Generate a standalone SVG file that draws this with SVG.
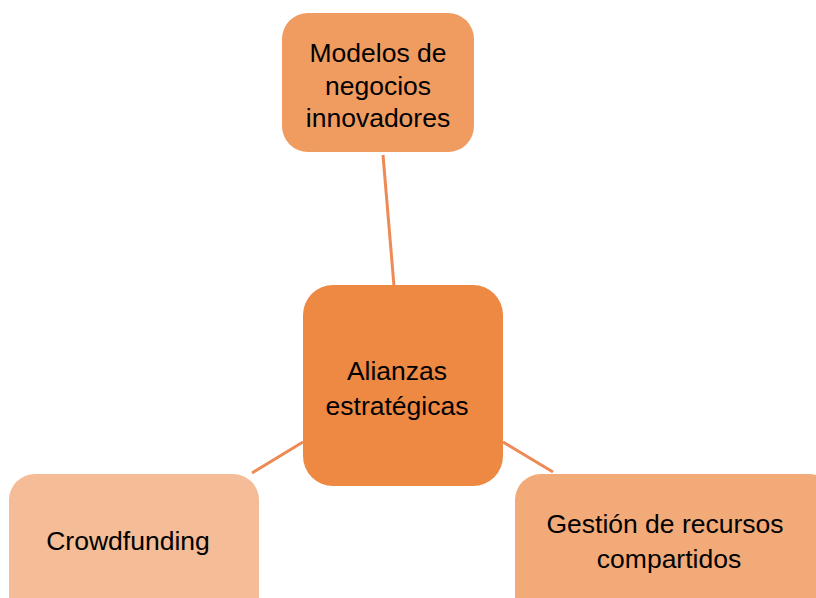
<svg xmlns="http://www.w3.org/2000/svg" width="816" height="598" viewBox="0 0 816 598">
<style>
.lbl{font-family:"Liberation Sans",Arial,sans-serif;font-size:26.5px;fill:#000;text-anchor:middle}
.conn{stroke:#EE8A55;stroke-width:3;fill:none}
</style>
<rect width="816" height="598" fill="#fff"/>
<g id="connectors">
<line class="conn" x1="383" y1="155" x2="394" y2="286"/>
<line class="conn" x1="252" y1="473" x2="303" y2="442"/>
<line class="conn" x1="503" y1="442" x2="553" y2="472"/>
</g>
<g id="node-modelos">
<rect x="282" y="13" width="192" height="139" rx="26" fill="#F09C60"/>
<text class="lbl" x="378"><tspan x="378" y="62">Modelos de</tspan><tspan x="378" y="95">negocios</tspan><tspan x="378" y="127">innovadores</tspan></text>
</g>
<g id="node-alianzas">
<rect x="303" y="285" width="200" height="201" rx="30" fill="#EE8944"/>
<text class="lbl" x="397"><tspan x="397" y="380">Alianzas</tspan><tspan x="397" y="415">estratégicas</tspan></text>
</g>
<g id="node-crowdfunding">
<rect x="9" y="474" width="250" height="150" rx="26" fill="#F4BC97"/>
<text class="lbl" x="128" y="550">Crowdfunding</text>
</g>
<g id="node-gestion">
<rect x="515" y="474" width="320" height="150" rx="26" fill="#F2AA78"/>
<text class="lbl" x="665"><tspan x="665" y="533">Gestión de recursos</tspan><tspan x="669" y="568">compartidos</tspan></text>
</g>
</svg>
